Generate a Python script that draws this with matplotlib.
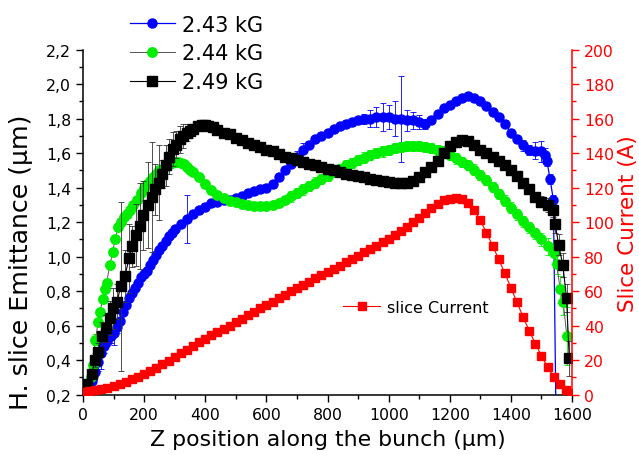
import matplotlib
matplotlib.use('Agg')
import matplotlib.pyplot as plt
from matplotlib.ticker import MultipleLocator, FuncFormatter

plt.rcParams['font.family'] = ['DejaVu Sans']

# 2.43 kG (blue)
blue_x = [30, 40, 50, 60, 70, 80, 90, 100, 110, 120, 130, 140, 150, 160, 170, 180, 190, 200,
          210, 220, 230, 240, 250, 260, 270, 280, 290, 300, 320, 340, 360, 380, 400, 420, 440,
          460, 480, 500, 520, 540, 560, 580, 600, 620, 640, 660, 680, 700, 720, 740, 760, 780,
          800, 820, 840, 860, 880, 900, 920, 940, 960, 980, 1000, 1020, 1040, 1060, 1080, 1100,
          1120, 1140, 1160, 1180, 1200, 1220, 1240, 1260, 1280, 1300, 1320, 1340, 1360, 1380,
          1400, 1420, 1440, 1460, 1480, 1500, 1510, 1518, 1528, 1539, 1550]
blue_y = [0.28, 0.33, 0.39, 0.44, 0.48, 0.51, 0.54, 0.56, 0.59, 0.63, 0.68, 0.72, 0.76, 0.79,
          0.82, 0.85, 0.88, 0.90, 0.92, 0.95, 0.98, 1.01, 1.04, 1.06, 1.09, 1.12, 1.14, 1.16,
          1.19, 1.22, 1.25, 1.27, 1.29, 1.31, 1.32, 1.33, 1.33, 1.34, 1.35, 1.37, 1.38, 1.39,
          1.40, 1.42, 1.46, 1.50, 1.54, 1.58, 1.62, 1.65, 1.68, 1.70, 1.72, 1.74, 1.76, 1.77,
          1.78, 1.79, 1.80, 1.80, 1.81, 1.81, 1.81, 1.80, 1.80, 1.79, 1.79, 1.78, 1.77, 1.79,
          1.83, 1.86, 1.88, 1.90, 1.92, 1.93, 1.92, 1.90, 1.875, 1.84, 1.81, 1.77, 1.72, 1.68,
          1.645, 1.62, 1.615, 1.61, 1.59, 1.555, 1.45, 1.33, -0.3]
blue_err = [0.02, 0.03, 0.05, 0.09, 0.04, 0.03, 0.04, 0.07, 0.03, 0.02, 0.02, 0.02, 0.02, 0.02,
            0.02, 0.02, 0.02, 0.02, 0.02, 0.02, 0.02, 0.02, 0.02, 0.02, 0.02, 0.02, 0.02, 0.02,
            0.02, 0.14, 0.02, 0.02, 0.02, 0.02, 0.02, 0.02, 0.02, 0.02, 0.02, 0.02, 0.02, 0.02,
            0.02, 0.02, 0.02, 0.02, 0.02, 0.03, 0.04, 0.02, 0.02, 0.02, 0.02, 0.02, 0.02, 0.02,
            0.02, 0.02, 0.03, 0.05, 0.06, 0.08, 0.07, 0.10, 0.25, 0.06, 0.05, 0.04, 0.03, 0.02,
            0.02, 0.02, 0.02, 0.02, 0.02, 0.02, 0.02, 0.02, 0.02, 0.02, 0.02, 0.02, 0.02, 0.02,
            0.03, 0.03, 0.05, 0.06, 0.04, 0.03, 0.03, 0.03, 0.0]

# 2.44 kG (green)
green_x = [25, 34, 40, 50, 56, 64, 72, 77, 88, 97, 105, 115, 125, 135, 145, 155, 165, 176, 190,
           200, 210, 220, 230, 240, 250, 260, 270, 280, 290, 300, 310, 320, 330, 340, 350, 360,
           380, 400, 420, 440, 460, 480, 500, 520, 540, 560, 580, 600, 620, 640, 660, 680, 700,
           720, 740, 760, 780, 800, 820, 840, 860, 880, 900, 920, 940, 960, 980, 1000, 1020,
           1040, 1060, 1080, 1100, 1120, 1140, 1160, 1180, 1200, 1220, 1240, 1260, 1280, 1300,
           1320, 1340, 1360, 1380, 1400, 1420, 1440, 1460, 1480, 1500, 1520, 1540, 1550, 1561,
           1571, 1583]
green_y = [0.30, 0.37, 0.52, 0.62, 0.68, 0.755, 0.81, 0.85, 0.95, 1.03, 1.10, 1.17, 1.20, 1.23,
           1.25, 1.27, 1.30, 1.33, 1.37, 1.40, 1.42, 1.44, 1.46, 1.48, 1.50, 1.51, 1.525, 1.535,
           1.545, 1.55, 1.55, 1.545, 1.535, 1.52, 1.505, 1.49, 1.46, 1.42, 1.385, 1.36, 1.34,
           1.325, 1.315, 1.305, 1.30, 1.295, 1.295, 1.295, 1.30, 1.31, 1.33, 1.35, 1.37, 1.39,
           1.41, 1.43, 1.45, 1.47, 1.49, 1.51, 1.53, 1.545, 1.56, 1.575, 1.59, 1.60, 1.61,
           1.62, 1.63, 1.635, 1.64, 1.64, 1.64, 1.635, 1.63, 1.62, 1.61, 1.59, 1.57, 1.55,
           1.53, 1.505, 1.475, 1.445, 1.405, 1.365, 1.325, 1.285, 1.245, 1.205, 1.17, 1.135,
           1.10, 1.06, 1.02, 0.96, 0.81, 0.74, 0.54]
green_err = [0.02, 0.04, 0.03, 0.02, 0.02, 0.02, 0.02, 0.02, 0.02, 0.02, 0.02, 0.02, 0.02, 0.02,
             0.02, 0.02, 0.02, 0.02, 0.02, 0.02, 0.02, 0.02, 0.02, 0.02, 0.02, 0.02, 0.02, 0.02,
             0.02, 0.02, 0.02, 0.02, 0.02, 0.02, 0.02, 0.02, 0.02, 0.02, 0.02, 0.02, 0.02, 0.02,
             0.02, 0.02, 0.02, 0.02, 0.02, 0.02, 0.02, 0.02, 0.02, 0.03, 0.03, 0.03, 0.03, 0.03,
             0.03, 0.03, 0.03, 0.03, 0.03, 0.03, 0.03, 0.03, 0.03, 0.03, 0.03, 0.03, 0.03, 0.03,
             0.03, 0.03, 0.03, 0.03, 0.03, 0.03, 0.03, 0.03, 0.03, 0.03, 0.03, 0.03, 0.03, 0.03,
             0.03, 0.03, 0.03, 0.03, 0.03, 0.03, 0.03, 0.03, 0.04, 0.05, 0.06, 0.06, 0.08, 0.08,
             0.17]

# 2.49 kG (black)
black_x = [12, 28, 40, 50, 61, 75, 88, 99, 112, 123, 137, 151, 161, 173, 187, 197, 212, 225,
           236, 249, 260, 272, 282, 295, 305, 317, 328, 339, 350, 360, 375, 390, 400, 410, 426,
           440, 460, 481, 500, 520, 540, 560, 580, 600, 620, 640, 660, 680, 700, 720, 740, 760,
           780, 800, 820, 840, 860, 880, 900, 920, 940, 960, 980, 1000, 1020, 1040, 1060, 1080,
           1100, 1120, 1140, 1160, 1180, 1200, 1220, 1240, 1260, 1280, 1300, 1320, 1340, 1360,
           1380, 1400, 1420, 1440, 1460, 1480, 1500, 1520, 1539, 1545, 1556, 1570, 1582, 1591]
black_y = [0.26, 0.32, 0.40, 0.45, 0.54, 0.585, 0.645, 0.70, 0.74, 0.83, 0.89, 0.99, 1.06,
           1.125, 1.18, 1.24, 1.30, 1.345, 1.39, 1.43, 1.48, 1.53, 1.58, 1.625, 1.65, 1.68, 1.70,
           1.72, 1.73, 1.74, 1.755, 1.765, 1.765, 1.76, 1.75, 1.735, 1.72, 1.71, 1.69, 1.675,
           1.66, 1.645, 1.634, 1.62, 1.61, 1.595, 1.58, 1.57, 1.56, 1.55, 1.54, 1.53, 1.52, 1.51,
           1.50, 1.49, 1.48, 1.475, 1.47, 1.46, 1.45, 1.445, 1.44, 1.435, 1.43, 1.425, 1.43,
           1.44, 1.46, 1.49, 1.52, 1.555, 1.60, 1.64, 1.665, 1.675, 1.67, 1.645, 1.62, 1.60,
           1.58, 1.555, 1.53, 1.50, 1.465, 1.43, 1.39, 1.345, 1.32, 1.30, 1.27, 1.19, 1.07,
           0.95, 0.76, 0.41]
black_err = [0.02, 0.03, 0.04, 0.05, 0.08, 0.08, 0.10, 0.12, 0.10, 0.49, 0.15, 0.20, 0.12,
             0.18, 0.25, 0.20, 0.25, 0.32, 0.15, 0.22, 0.08, 0.12, 0.10, 0.10, 0.08, 0.08, 0.07,
             0.05, 0.04, 0.02, 0.02, 0.02, 0.02, 0.02, 0.02, 0.02, 0.02, 0.02, 0.02, 0.02, 0.02,
             0.02, 0.02, 0.02, 0.02, 0.02, 0.02, 0.02, 0.02, 0.02, 0.02, 0.02, 0.02, 0.02, 0.02,
             0.02, 0.02, 0.02, 0.02, 0.02, 0.02, 0.02, 0.02, 0.02, 0.02, 0.02, 0.02, 0.02, 0.02,
             0.02, 0.02, 0.02, 0.02, 0.02, 0.02, 0.02, 0.02, 0.02, 0.02, 0.02, 0.02, 0.02, 0.02,
             0.02, 0.02, 0.02, 0.02, 0.03, 0.03, 0.04, 0.04, 0.05, 0.06, 0.07, 0.08, 0.10]

# slice current (red, right axis)
cur_x = list(range(0, 1601, 20))
cur_y = [1.5, 2.0, 2.6, 3.3, 4.1, 5.0, 6.2, 7.5, 8.9, 10.4, 12.0, 13.8, 15.7, 17.7, 19.8, 21.9,
         24.0, 26.1, 28.2, 30.3, 32.4, 34.4, 36.3, 38.2, 40.1, 42.0, 44.0, 46.0, 48.0, 50.0,
         52.0, 54.0, 56.0, 58.0, 60.0, 62.0, 63.8, 65.6, 67.4, 69.2, 71.0, 72.9, 74.8, 76.7,
         78.6, 80.5, 82.5, 84.5, 86.5, 88.5, 90.5, 92.8, 95.1, 97.5, 100.0, 102.5, 105.3, 108.2,
         110.8, 112.6, 113.6, 114.0, 113.2, 111.0, 107.0, 101.0, 94.0, 86.5, 78.5, 70.5, 62.0,
         53.5, 45.0, 37.0, 29.5, 22.5, 16.0, 10.5, 6.0, 3.0, 1.0]

BLUE = '#0000ff'
GREEN = '#00ee00'
RED = '#ff0000'

fig = plt.figure(figsize=(6.39, 4.56), dpi=100)
ax = fig.add_axes([0.1299, 0.1322, 0.7653, 0.7566])

# error bars first, then markers on top
ax.errorbar(blue_x, blue_y, yerr=blue_err, fmt='none', ecolor=BLUE, elinewidth=0.6, capsize=2, capthick=0.6, zorder=2)
lb, = ax.plot(blue_x, blue_y, '-o', color=BLUE, lw=0.9, ms=6.5, zorder=3)
ax.errorbar(green_x, green_y, yerr=green_err, fmt='none', ecolor=GREEN, elinewidth=0.6, capsize=2, capthick=0.6, zorder=4)
lg, = ax.plot(green_x, green_y, '-o', color='#555555', mfc=GREEN, mec=GREEN, lw=0.7, ms=6.8, zorder=5)
ax.errorbar(black_x, black_y, yerr=black_err, fmt='none', ecolor='#333333', elinewidth=0.6, capsize=2, capthick=0.6, zorder=6)
lk, = ax.plot(black_x, black_y, '-s', color='black', lw=0.8, ms=7, zorder=7)

ax.set_xlim(0, 1600)
ax.set_ylim(0.2, 2.2)
ax.xaxis.set_major_locator(MultipleLocator(200))
ax.xaxis.set_minor_locator(MultipleLocator(100))
ax.yaxis.set_major_locator(MultipleLocator(0.2))
ax.yaxis.set_minor_locator(MultipleLocator(0.1))
ax.yaxis.set_major_formatter(FuncFormatter(lambda v, p: f'{v:.1f}'.replace('.', ',')))
ax.tick_params(which='both', direction='out', labelsize=11.3, width=1)
ax.tick_params(which='major', length=5)
ax.tick_params(which='minor', length=3)
ax.spines['top'].set_visible(False)
ax.spines['right'].set_visible(False)
ax.spines['left'].set_linewidth(1.1)
ax.spines['bottom'].set_linewidth(1.1)

ax.set_xlabel('Z position along the bunch (\u03bcm)', fontsize=15.8)
ax.xaxis.set_label_coords(0.50, -0.100)
ax.set_ylabel('H. slice Emittance (\u03bcm)', fontsize=18.2)
ax.yaxis.set_label_coords(-0.102, 0.386)

ax2 = ax.twinx()
lr, = ax2.plot(cur_x, cur_y, '-s', color=RED, lw=0.8, ms=6.3)
ax2.set_ylim(0, 200)
ax2.yaxis.set_major_locator(MultipleLocator(20))
ax2.yaxis.set_minor_locator(MultipleLocator(10))
ax2.tick_params(which='both', direction='out', colors=RED, labelsize=11.3, width=1)
ax2.tick_params(which='major', length=5)
ax2.tick_params(which='minor', length=3)
for s in ['top', 'left', 'bottom']:
    ax2.spines[s].set_visible(False)
ax2.spines['right'].set_color(RED)
ax2.spines['right'].set_linewidth(1.1)
ax2.set_ylabel('Slice Current (A)', fontsize=15.5, color=RED)
ax2.yaxis.set_label_coords(1.094, 0.50)

fig.legend([lb, lg, lk], ['2.43 kG', '2.44 kG', '2.49 kG'], loc='upper left',
           bbox_to_anchor=(0.203, 0.966), frameon=False, fontsize=15, borderpad=0,
           borderaxespad=0, handlelength=2.15, handletextpad=0.34, labelspacing=0.42)
ax2.legend([lr], ['slice Current'], loc='center left', bbox_to_anchor=(0.532, 0.254),
           frameon=False, fontsize=11.5, borderpad=0, borderaxespad=0,
           handlelength=2.3, handletextpad=0.44)

fig.savefig('out.png', dpi=100)
